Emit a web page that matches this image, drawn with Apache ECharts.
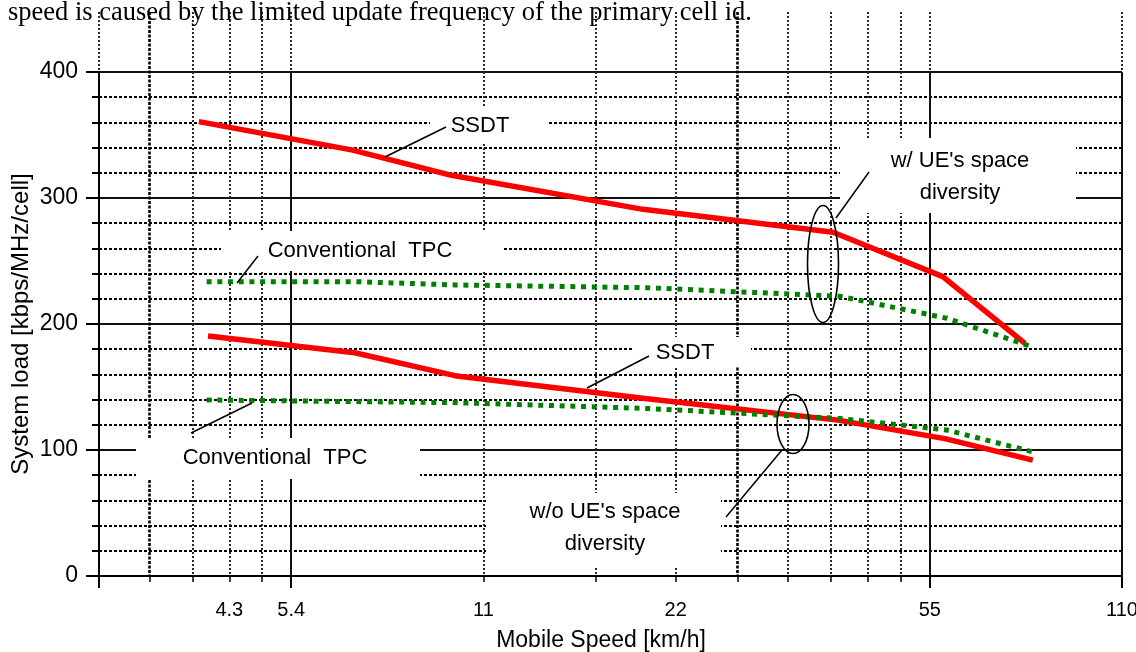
<!DOCTYPE html>
<html><head><meta charset="utf-8">
<script src="https://cdn.jsdelivr.net/npm/echarts@6/dist/echarts.min.js"></script>
<style>html,body{margin:0;padding:0;background:#fff}#c{width:1136px;height:652px}</style>
</head><body><div id="c"></div>
<script>
// ---- data (km/h, kbps/MHz/cell) ----
const speedUpperSSDT = [3.87, 6.74, 9.62, 19.2, 38.1, 56.6, 76.1];
const loadUpperSSDT  = [360.6, 338, 318, 291, 272.8, 237.6, 184.7];
const speedUpperTPC  = [3.98, 6.83, 9.74, 19.45, 39.05, 57.4, 78.0];
const loadUpperTPC   = [233.6, 233.6, 231, 228.8, 222, 204.6, 182];
const speedLowerSSDT = [4.0, 6.79, 9.74, 19.33, 38.77, 57.0, 78.3];
const loadLowerSSDT  = [190.5, 177.2, 159, 140.8, 123.7, 109, 92];
const speedLowerTPC  = [3.98, 6.83, 9.74, 19.45, 39.05, 57.4, 78.0];
const loadLowerTPC   = [139.7, 138.4, 137.6, 133, 125, 115.9, 98.7];

// ---- axis ticks ----
const xMin = 2.7, xMax = 108;
const minorGridSpeeds = [2.7, 3.78, 4.32, 4.86, 5.4, 10.8, 16.2, 21.6, 32.4, 37.8, 43.2, 48.6, 54, 108];
const denseGridSpeeds = [3.24, 27];
const majorGridSpeeds = [2.7, 5.4, 54, 108];
const minorTickSpeeds = [3.24, 3.78, 4.32, 4.86, 10.8, 16.2, 21.6, 27, 32.4, 37.8, 43.2, 48.6];
const tickSpeeds = [4.32, 5.4, 10.8, 21.6, 54, 108];
const tickLabels = ['4.3', '5.4', '11', '22', '55', '110'];

const clampV = v => Math.min(Math.max(v, xMin * 1.0002), xMax * 0.9998);
const pairs = (xs, ys) => xs.map((x, i) => [x, ys[i]]);

const chart = echarts.init(document.getElementById('c'), null, {renderer: 'canvas'});
const FS = 'Liberation Sans, Arial, sans-serif';

function logAxis(grid, custom, extra) {
  return Object.assign({
    gridIndex: grid, type: 'log', logBase: 10, min: xMin, max: xMax, position: 'bottom',
    axisLine: {show: false},
    axisTick: {show: false, customValues: custom.map(clampV)},
    axisLabel: {show: false},
    splitLine: {show: false}
  }, extra);
}

const labelMap = v => {
  let best = 0, bd = 1e9;
  tickSpeeds.forEach((t, i) => { const d = Math.abs(Math.log(v) - Math.log(t)); if (d < bd) { bd = d; best = i; } });
  return tickLabels[best];
};

const gridBase = {left: 99, right: 14, bottom: 76, containLabel: false, outerBoundsMode: 'none'};

const option = {
  animation: false,
  backgroundColor: '#fff',
  grid: [
    Object.assign({top: 12}, gridBase),
    Object.assign({top: 72}, gridBase)
  ],
  xAxis: [
    logAxis(0, minorGridSpeeds, {splitLine: {show: true, lineStyle: {color: '#2a2a2a', width: 2, type: [2, 2]}}}),
    logAxis(0, denseGridSpeeds, {splitLine: {show: true, lineStyle: {color: '#000', width: 2.6, type: [3, 1.5]}}}),
    logAxis(1, majorGridSpeeds, {
      axisLine: {show: true, lineStyle: {color: '#000', width: 2}},
      axisTick: {show: true, customValues: majorGridSpeeds.map(clampV), length: 12, lineStyle: {color: '#000', width: 2}},
      axisLabel: {show: true, customValues: tickSpeeds.map(clampV), formatter: labelMap, margin: 24,
                  fontSize: 20, color: '#000', fontFamily: FS},
      splitLine: {show: true, lineStyle: {color: '#111', width: 2, type: 'solid'}}
    }),
    logAxis(1, minorTickSpeeds, {
      axisTick: {show: true, customValues: minorTickSpeeds.map(clampV), length: 6, lineStyle: {color: '#000', width: 1.5}}
    })
  ],
  yAxis: [
    {gridIndex: 0, type: 'value', min: 0, max: 1, show: false},
    {gridIndex: 1, type: 'value', min: 0, max: 400, interval: 100, position: 'left',
     axisLine: {show: true, lineStyle: {color: '#000', width: 2}},
     axisTick: {show: true, length: 13, lineStyle: {color: '#000', width: 2}},
     minorTick: {show: true, splitNumber: 5, length: 7, lineStyle: {color: '#000', width: 2}},
     axisLabel: {fontSize: 23, color: '#000', margin: 21, fontFamily: FS},
     splitLine: {show: true, lineStyle: {color: '#111', width: 2}},
     minorSplitLine: {show: true, lineStyle: {color: '#000', width: 2, type: [3, 2]}},
     name: 'System load [kbps/MHz/cell]', nameLocation: 'middle', nameGap: 66, nameMoveOverlap: false,
     nameTextStyle: {fontSize: 24, color: '#000', fontFamily: FS}
    }
  ],
  series: [
    {type: 'line', xAxisIndex: 2, yAxisIndex: 1, data: pairs(speedUpperSSDT, loadUpperSSDT), symbol: 'none', z: 3,
     lineStyle: {color: '#ff0000', width: 5.5}},
    {type: 'line', xAxisIndex: 2, yAxisIndex: 1, data: pairs(speedUpperTPC, loadUpperTPC), symbol: 'none', z: 3,
     lineStyle: {color: '#008000', width: 5, type: [5, 5.7], cap: 'butt'}},
    {type: 'line', xAxisIndex: 2, yAxisIndex: 1, data: pairs(speedLowerSSDT, loadLowerSSDT), symbol: 'none', z: 3,
     lineStyle: {color: '#ff0000', width: 5.5}},
    {type: 'line', xAxisIndex: 2, yAxisIndex: 1, data: pairs(speedLowerTPC, loadLowerTPC), symbol: 'none', z: 3,
     lineStyle: {color: '#008000', width: 5, type: [5, 5.7], cap: 'butt'}}
  ],
  graphic: {elements: []}
};

const G = option.graphic.elements;
function mask(x1, y1, x2, y2) {
  G.push({type: 'rect', shape: {x: x1, y: y1, width: x2 - x1, height: y2 - y1}, style: {fill: '#fff'}, z: 100, silent: true});
}
function txt(text, x, y, size, align, family, lh) {
  G.push({type: 'text', x: x, y: y, z: 102, silent: true,
    style: {text: text, fill: '#000', font: size + 'px ' + (family || FS),
            align: align || 'center', verticalAlign: 'middle',
            textAlign: align || 'center', textVerticalAlign: 'middle', lineHeight: lh || size}});
}
function seg(x1, y1, x2, y2) {
  G.push({type: 'line', shape: {x1, y1, x2, y2}, style: {stroke: '#000', lineWidth: 1.5}, z: 103, silent: true});
}
function ell(cx, cy, rx, ry) {
  G.push({type: 'ellipse', shape: {cx, cy, rx, ry}, style: {fill: 'none', stroke: '#000', lineWidth: 1.6}, z: 103, silent: true});
}

// label boxes
mask(430, 107, 547, 143);
mask(221, 231, 504, 271);
mask(840, 138, 1076, 213);
mask(634, 337, 751, 366);
mask(136, 438, 420, 479);
mask(486, 493, 721, 567);

txt('SSDT', 480, 126, 22);
txt('Conventional  TPC', 360, 251, 22);
txt("w/ UE's space\ndiversity", 960, 177, 22, 'center', null, 32);
txt('SSDT', 685, 353, 22);
txt('Conventional  TPC', 275, 458, 22);
txt("w/o UE's space\ndiversity", 605, 528, 22, 'center', null, 32);

seg(446, 127, 385, 157);
seg(258, 256, 237, 283);
seg(869, 172, 836, 218);
seg(649, 356, 587, 388);
seg(191, 433, 252, 403);
seg(782, 450, 726, 517);
ell(823, 264, 15.5, 58.5);
ell(793, 424, 16, 29.5);

// axis title and top running text
txt('Mobile Speed [km/h]', 601, 641, 23);
G.push({type: 'text', x: 8, y: 13, z: 1, silent: true,
  style: {text: 'speed is caused by the limited update frequency of the primary cell id.', fill: '#000',
          font: '26.5px "Liberation Serif", "Times New Roman", serif', align: 'left', verticalAlign: 'middle',
          textAlign: 'left', textVerticalAlign: 'middle'}});

chart.setOption(option);
</script>
</body></html>
